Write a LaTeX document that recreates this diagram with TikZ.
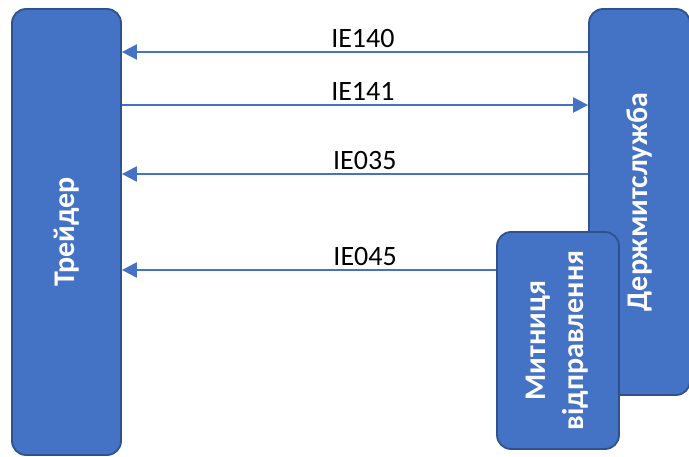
\documentclass[tikz,border=0pt]{standalone}
\usepackage{fontspec}
\setmainfont{Carlito}
\usepackage{graphicx}
\usepackage{xcolor}
\usetikzlibrary{arrows.meta, positioning, calc}
\definecolor{officeblue}{HTML}{4472C4}
\definecolor{officeedge}{HTML}{2F528F}
\tikzset{
    party/.style={
        rectangle,
        rounded corners=14pt,
        draw=officeedge,
        line width=1.8pt,
        fill=officeblue,
        text=white,
        font=\fontsize{30}{34}\selectfont\bfseries,
        inner sep=0pt,
    },
    msg/.style={
        draw=officeblue,
        line width=2.2pt,
        -{Triangle[length=15pt, width=15pt]},
    },
    msglabel/.style={
        above,
        inner sep=3pt,
        text=black,
        font=\fontsize{28}{32}\selectfont,
    },
}

\begin{document}
\begin{tikzpicture}[x=1pt, y=-1pt]
      \useasboundingbox (0,0) rectangle (689,457);
      \node[party, minimum width=109pt, minimum height=446pt] (trader) at (66.5,232) {\rotatebox{90}{Трейдер}};
      \node[party, minimum width=101pt, minimum height=386pt] (state) at (639.5,202) {\rotatebox{90}{Держмитслужба}};
      \node[party, minimum width=122pt, minimum height=217pt] (depart) at (558,340.5)
          {\rotatebox{90}{\begin{tabular}{@{}c@{}}Митниця\\[4pt]відправлення\end{tabular}}};

      \draw[msg] ([yshift=150pt]state.west) coordinate (m1) -- (m1 -| trader.east) node[msglabel, pos=0.483]{IE140};
      \draw[msg] ([yshift=127pt]trader.east) coordinate (m2) -- (m2 -| state.west) node[msglabel, pos=0.517]{IE141};
      \draw[msg] ([yshift=28pt]state.west) coordinate (m3) -- (m3 -| trader.east) node[msglabel, pos=0.479]{IE035};
      \draw[msg] ([yshift=70.5pt]depart.west) coordinate (m4) -- (m4 -| trader.east) node[msglabel, pos=0.35]{IE045};
    \end{tikzpicture}
\end{document}
